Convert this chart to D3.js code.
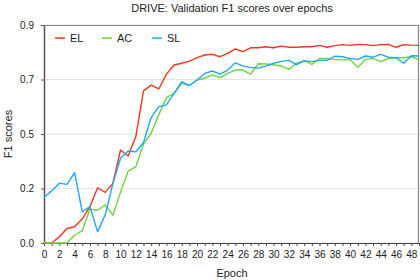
<!DOCTYPE html>
<html>
<head>
<meta charset="utf-8">
<script src="https://cdn.jsdelivr.net/npm/d3@7"></script>
<style>
  body { margin: 0; background: #fff; }
  svg { font-family: "Liberation Sans", Arial, sans-serif; }
</style>
</head>
<body>
<div id="chart"></div>
<script>
const epochs = d3.range(0, 50);
const seriesNames = ["EL", "AC", "SL"];
const seriesColors = ["#f2351f", "#6cd33c", "#1ea8f7"];

const elScores = [0, 0, 0.026, 0.06, 0.067, 0.10, 0.15, 0.228, 0.209, 0.246,
  0.384, 0.359, 0.44, 0.628, 0.652, 0.636, 0.697, 0.735, 0.742, 0.751,
  0.765, 0.776, 0.779, 0.769, 0.783, 0.801, 0.79, 0.806, 0.806, 0.81,
  0.806, 0.813, 0.808, 0.808, 0.81, 0.81, 0.816, 0.808, 0.815, 0.819,
  0.816, 0.82, 0.819, 0.815, 0.819, 0.82, 0.808, 0.819, 0.817, 0.816];
const acScores = [0, 0, 0, 0, 0.033, 0.05, 0.14, 0.135, 0.157, 0.115,
  0.21, 0.297, 0.315, 0.408, 0.453, 0.53, 0.6, 0.618, 0.659, 0.65,
  0.673, 0.68, 0.694, 0.683, 0.70, 0.714, 0.714, 0.697, 0.74, 0.739,
  0.736, 0.731, 0.717, 0.742, 0.753, 0.737, 0.762, 0.762, 0.757, 0.756,
  0.758, 0.725, 0.758, 0.762, 0.749, 0.762, 0.765, 0.765, 0.769, 0.756];
const slScores = [0.189, 0.215, 0.247, 0.242, 0.29, 0.129, 0.15, 0.047, 0.116, 0.245,
  0.35, 0.38, 0.377, 0.415, 0.518, 0.563, 0.57, 0.618, 0.666, 0.65,
  0.673, 0.70, 0.71, 0.697, 0.714, 0.744, 0.731, 0.725, 0.722, 0.73,
  0.742, 0.75, 0.754, 0.736, 0.752, 0.749, 0.754, 0.754, 0.771, 0.769,
  0.762, 0.758, 0.772, 0.767, 0.779, 0.767, 0.765, 0.742, 0.773, 0.772];

const yTickValues = [0, 0.225, 0.45, 0.675, 0.9];
const yTickLabels = ["0.0", "0.2", "0.5", "0.7", "0.9"];
const xTickLabelValues = d3.range(0, 50, 2);

const allScores = [elScores, acScores, slScores];

// set the dimensions and margins of the graph
var margin = {top: 25, right: 1, bottom: 37, left: 44},
    width = 420 - margin.left - margin.right,
    height = 280 - margin.top - margin.bottom;

var svg = d3.select("#chart")
  .append("svg")
  .attr("width", 420)
  .attr("height", 280);

var g = svg.append("g")
  .attr("transform", "translate(" + margin.left + "," + margin.top + ")");

var x = d3.scaleLinear().domain([0, 49]).range([0, width]);
var y = d3.scaleLinear().domain([0, 0.9]).range([height, 0]);

// grid lines
g.selectAll(".grid")
  .data(yTickValues)
  .enter()
  .append("line")
  .attr("x1", 0).attr("x2", width)
  .attr("y1", function(d) { return y(d); })
  .attr("y2", function(d) { return y(d); })
  .attr("stroke", "#e3e3e3")
  .attr("stroke-width", 1.2);

// frame (top and right)
g.append("path")
  .attr("d", "M0,0.5H" + (width - 0.5) + "V" + height)
  .attr("fill", "none")
  .attr("stroke", "#888")
  .attr("stroke-width", 1.2);

// X axis: minor ticks every epoch, labels every 2
var xAxis = g.append("g")
  .attr("transform", "translate(0," + height + ")")
  .call(d3.axisBottom(x).tickValues(epochs).tickSize(3).tickSizeOuter(0)
    .tickFormat(function(d) { return d % 2 === 0 ? d : ""; }));
xAxis.select(".domain").attr("stroke", "#444").attr("stroke-width", 1.2);
xAxis.selectAll(".tick line").attr("stroke", "#444");
xAxis.selectAll(".tick text").attr("font-size", 10).attr("fill", "#222").attr("dy", "0.9em");

// Y axis
var yAxis = g.append("g")
  .call(d3.axisLeft(y).tickValues(yTickValues).tickSize(3).tickSizeOuter(0)
    .tickFormat(function(d, i) { return yTickLabels[i]; }));
yAxis.select(".domain").attr("stroke", "#555").attr("stroke-width", 1.5);
yAxis.selectAll(".tick line").attr("stroke", "#555");
yAxis.selectAll(".tick text").attr("font-size", 10).attr("fill", "#222").attr("x", -10);

// lines
var line = d3.line()
  .x(function(d, i) { return x(epochs[i]); })
  .y(function(d) { return y(d); });

allScores.forEach(function(scores, i) {
  g.append("path")
    .datum(scores)
    .attr("fill", "none")
    .attr("stroke", seriesColors[i])
    .attr("stroke-width", 1.4)
    .attr("stroke-linejoin", "round")
    .attr("d", line);
});

// legend
var legendX = [11, 58, 108];
seriesNames.forEach(function(name, i) {
  var lg = g.append("g").attr("transform", "translate(" + legendX[i] + ",13)");
  lg.append("line").attr("x1", 0).attr("x2", 10).attr("y1", 0).attr("y2", 0)
    .attr("stroke", seriesColors[i]).attr("stroke-width", 1.5);
  lg.append("text").attr("x", 15).attr("y", 4).attr("font-size", 11)
    .attr("fill", "#222").text(name);
});

// title and axis labels
svg.append("text")
  .attr("x", 232).attr("y", 12)
  .attr("text-anchor", "middle").attr("font-size", 11).attr("fill", "#222")
  .text("DRIVE: Validation F1 scores over epochs");

svg.append("text")
  .attr("x", 232).attr("y", 277)
  .attr("text-anchor", "middle").attr("font-size", 11).attr("fill", "#222")
  .text("Epoch");

svg.append("text")
  .attr("transform", "translate(12," + (margin.top + height / 2) + ") rotate(-90)")
  .attr("text-anchor", "middle").attr("font-size", 11).attr("fill", "#222")
  .text("F1 scores");
</script>
</body>
</html>
